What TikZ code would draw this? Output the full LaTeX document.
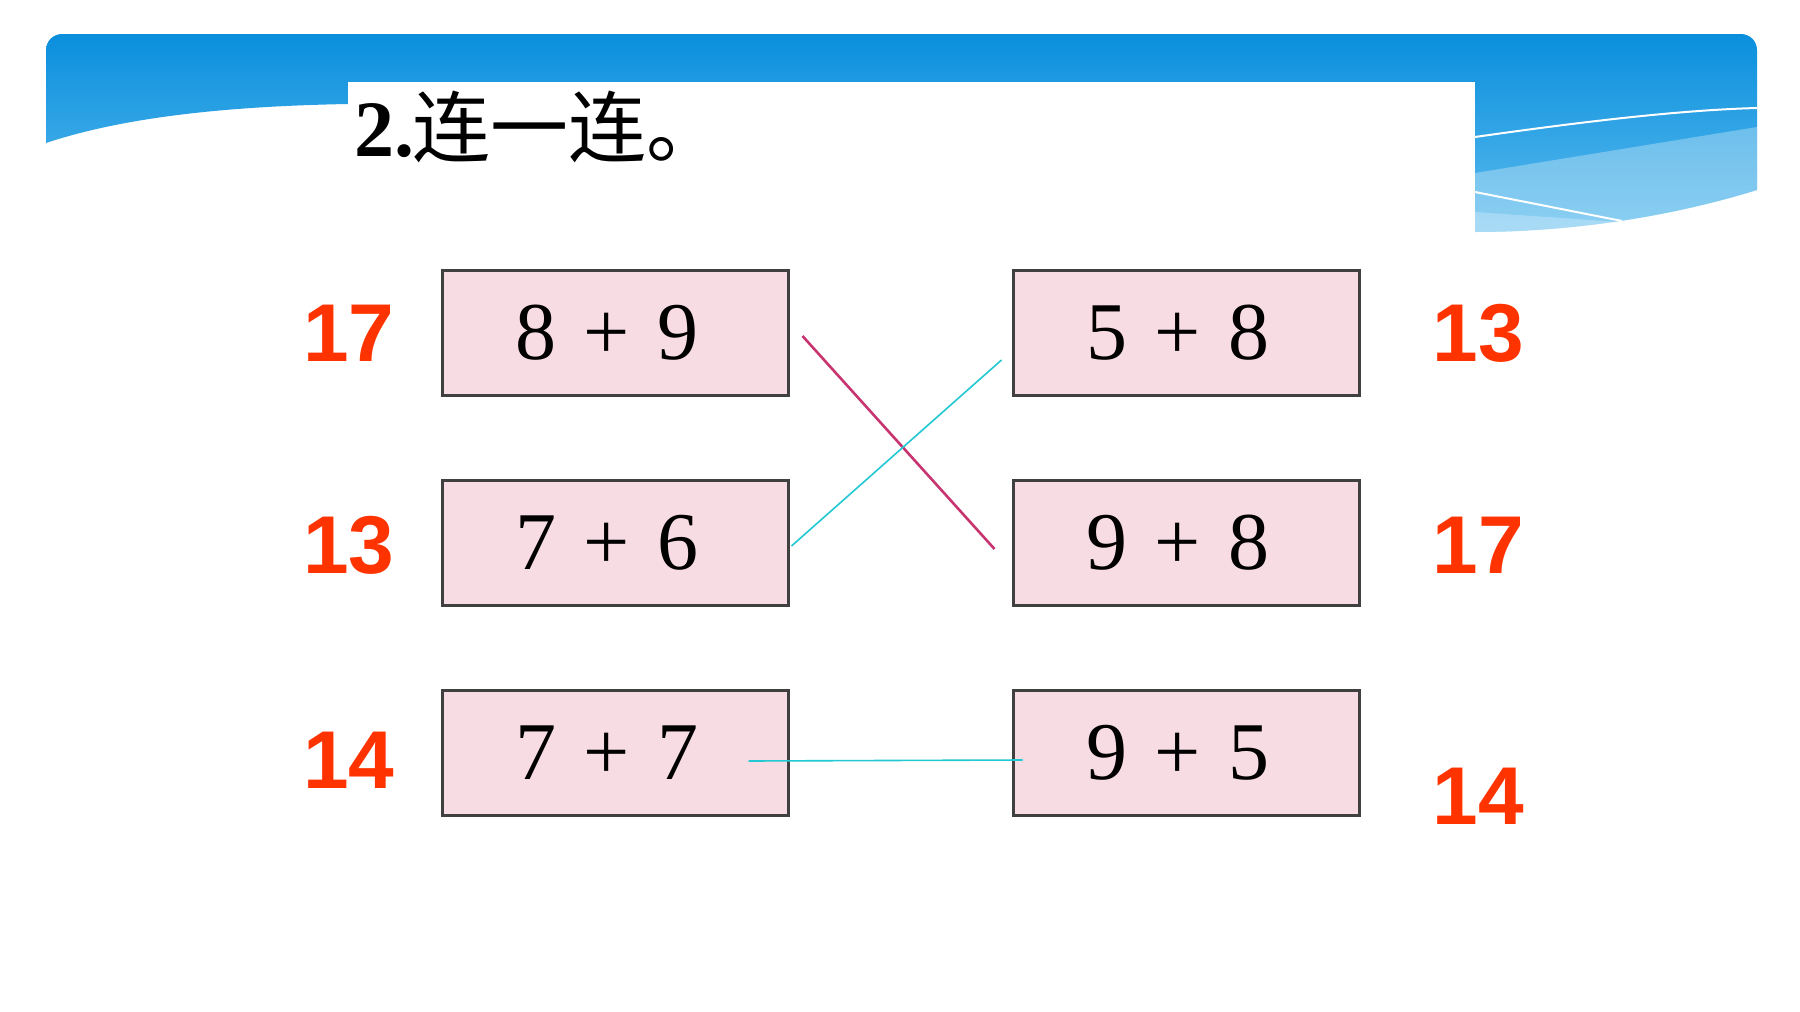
\documentclass[tikz,border=0pt]{standalone}
\usepackage{fontspec}
\setmainfont{Liberation Serif}
\newfontfamily\numfont{Liberation Sans}
\newfontfamily\cjk{Noto Sans CJK SC}
\usetikzlibrary{calc}
\definecolor{bandtop}{HTML}{0A8FDD}
\definecolor{bandbot}{HTML}{5BBBEE}
\definecolor{pinkfill}{HTML}{F8DCE4}
\definecolor{boxline}{HTML}{404040}
\definecolor{ansred}{HTML}{FF3300}
\definecolor{cyanline}{HTML}{22C8D2}
\definecolor{magline}{HTML}{C83470}
\tikzset{
  ebox/.style={draw=boxline, line width=1.5pt, fill=pinkfill, minimum width=173pt, minimum height=62.5pt, inner sep=0pt, font=\fontsize{41}{41}\selectfont},
  ans/.style={text=ansred, font=\numfont\bfseries\fontsize{41}{41}\selectfont, inner sep=0pt},
  cline/.style={draw=cyanline, line width=0.8pt},
  mline/.style={draw=magline, line width=1.3pt}
}
\newcommand{\sm}[2]{#1\hspace{0.34em}+\hspace{0.34em}#2\hspace*{8pt}}
\begin{document}
\begin{tikzpicture}[x=0.5pt,y=-0.5pt]
\useasboundingbox (0,0) rectangle (1800,1012);
\fill[white] (0,0) rectangle (1800,1012);
% header band
\shade[top color=bandtop, bottom color=bandbot]
  (46,143) [rounded corners=8pt] -- (46,34) -- (1757,34) -- (1757,110) [sharp corners] -- (1757,190)
  .. controls (1660,220) and (1560,232) .. (1475,232) -- (1475,104) -- (348,104)
  .. controls (240,106) and (130,115) .. (46,143) -- cycle;
% lighter region lower right
\fill[white,opacity=0.3] (1475,173) -- (1757,127) -- (1757,190)
  .. controls (1660,220) and (1560,232) .. (1475,232) -- cycle;
\fill[white,opacity=0.25] (1475,212) -- (1620,222) .. controls (1570,230) and (1520,232) .. (1475,232) -- cycle;
\draw[white,line width=1pt] (1475,137) .. controls (1580,122) and (1680,110) .. (1757,108);
\draw[white,line width=1pt] (1475,192) -- (1622,221);
% title area
\fill[white] (348,82) rectangle (1475,232);
\node[anchor=base west, inner sep=0pt] (title) at (354,156)
  {\fontsize{40}{40}\selectfont\bfseries 2.\hspace{-0.02em}{\cjk\mdseries\fontsize{39}{39}\selectfont 连一连。}};
% boxes
\node[ebox] (L1) at (615,333) {\sm{8}{9}};
\node[ebox] (L2) at (615,543) {\sm{7}{6}};
\node[ebox] (L3) at (615,753) {\sm{7}{7}};
\node[ebox] (R1) at (1186,333) {\sm{5}{8}};
\node[ebox] (R2) at (1186,543) {\sm{9}{8}};
\node[ebox] (R3) at (1186,753) {\sm{9}{5}};
% answers
\node[ans] (a1) at (349,333) {17};
\node[ans] (a2) at (349,545) {13};
\node[ans] (a3) at (349,760) {14};
\node[ans] (b1) at (1478,333) {13};
\node[ans] (b2) at (1478,545) {17};
\node[ans] (b3) at (1478,796) {14};
% connectors
\coordinate (m1) at ($(L1.east)+(13,3)$);
\coordinate (m2) at ($(R2.west)+(-17,6)$);
\coordinate (c1) at ($(L2.east)+(2,3)$);
\coordinate (c2) at ($(R1.west)+(-10,27)$);
\coordinate (h1) at ($(L3.east)+(-41,8)$);
\coordinate (h2) at ($(R3.west)+(11,7)$);
\draw[mline] (m1) -- (m2);
\draw[cline] (c1) -- (c2);
\draw[cline] (h1) -- (h2);
\end{tikzpicture}
\end{document}
